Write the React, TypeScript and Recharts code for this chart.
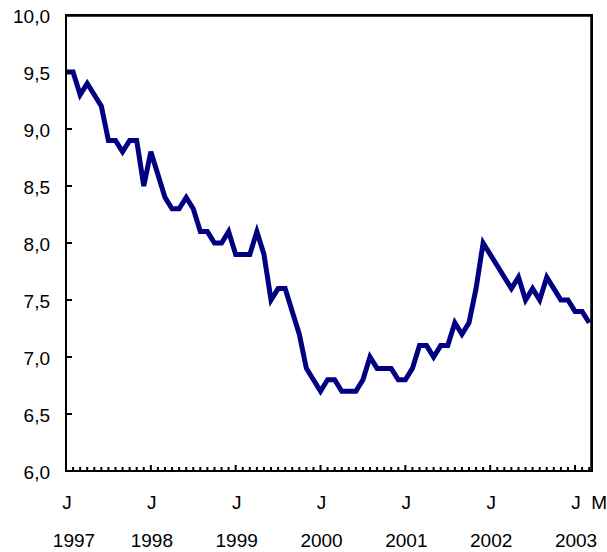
import React from "react";
import { LineChart, Line, XAxis, YAxis, ReferenceArea } from "recharts";

// Monthly values, Jan 1997 .. Mar 2003
const rate = [
  9.5, 9.5, 9.3, 9.4, 9.3, 9.2, 8.9, 8.9, 8.8, 8.9, 8.9, 8.5, // 1997
  8.8, 8.6, 8.4, 8.3, 8.3, 8.4, 8.3, 8.1, 8.1, 8.0, 8.0, 8.1, // 1998
  7.9, 7.9, 7.9, 8.1, 7.9, 7.5, 7.6, 7.6, 7.4, 7.2, 6.9, 6.8, // 1999
  6.7, 6.8, 6.8, 6.7, 6.7, 6.7, 6.8, 7.0, 6.9, 6.9, 6.9, 6.8, // 2000
  6.8, 6.9, 7.1, 7.1, 7.0, 7.1, 7.1, 7.3, 7.2, 7.3, 7.6, 8.0, // 2001
  7.9, 7.8, 7.7, 7.6, 7.7, 7.5, 7.6, 7.5, 7.7, 7.6, 7.5, 7.5, // 2002
  7.4, 7.4, 7.3, // 2003
];
const monthLetters = ["J", "F", "M", "A", "M", "J", "J", "A", "S", "O", "N", "D"];
const yearLabels = ["1997", "1998", "1999", "2000", "2001", "2002", "2003"];
const yTicks = [6.0, 6.5, 7.0, 7.5, 8.0, 8.5, 9.0, 9.5, 10.0];
const xMax = 74.4;

const data = rate.map((v, i) => ({ i, v }));
const lastIdx = rate.length - 1;
const font = "'Liberation Sans', Arial, sans-serif";
const frame = { stroke: "#000", strokeWidth: 2 };

// chart layout
const W = 607;
const H = 552;
const M = { top: 15, right: 15 };
const yAxisW = 66;
const xAxisH = 81;
const plotW = W - M.right - yAxisW;
const plotH = H - xAxisH - M.top;

const XTick = (props: any) => {
  const { x, y, payload } = props;
  const idx = payload.value as number;
  const isJan = idx % 12 === 0;
  const isLast = idx === lastIdx;
  return (
    <g>
      {idx > 0 && <line x1={x} y1={y} x2={x} y2={y - (isJan ? 6 : 4)} stroke="#000" strokeWidth={2} />}
      {(isJan || isLast) && (
        <text x={x + (isLast ? 10 : 1)} y={y + 31} textAnchor="middle" dominantBaseline="central" fontSize={19} fontFamily={font} fill="#000">
          {monthLetters[idx % 12]}
        </text>
      )}
      {isJan && (
        <text x={x + (idx === 0 ? 8 : 1)} y={y + 69} textAnchor="middle" dominantBaseline="central" fontSize={19} fontFamily={font} fill="#000">
          {yearLabels[idx / 12]}
        </text>
      )}
    </g>
  );
};

const YTick = (props: any) => {
  const { x, y, payload } = props;
  const isTop = payload.value === yTicks[yTicks.length - 1];
  return (
    <g>
      <line x1={x} y1={y} x2={x + 6} y2={y} stroke="#000" strokeWidth={2} />
      {isTop && (
        // top and right edges of the plot frame
        <path d={`M${x - 1},${y + 0.5} H${x + plotW - 0.5} V${y + plotH}`} fill="none" stroke="#000" strokeWidth={2.5} />
      )}
      <text x={x - 16} y={y + 1} textAnchor="end" dominantBaseline="central" fontSize={19} fontFamily={font} fill="#000">
        {Number(payload.value).toFixed(1).replace(".", ",")}
      </text>
    </g>
  );
};

export default function App() {
  return (
    <div style={{ position: "absolute", left: 0, top: 0, width: W, height: H, background: "#fff" }}>
      <LineChart width={W} height={H} data={data} margin={{ top: M.top, right: M.right, left: 0, bottom: 0 }}>
        <ReferenceArea x1={0} x2={xMax} y1={6} y2={10} fill="none" stroke="#000" strokeWidth={2} ifOverflow="visible" />
        <XAxis
          dataKey="i"
          type="number"
          domain={[0, xMax]}
          ticks={data.map((d) => d.i)}
          interval={0}
          height={xAxisH}
          tickLine={false}
          tickSize={0}
          tickMargin={0}
          axisLine={frame}
          tick={<XTick />}
          allowDataOverflow
        />
        <YAxis
          domain={[6, 10]}
          ticks={yTicks}
          width={yAxisW}
          tickLine={false}
          tickSize={0}
          tickMargin={0}
          axisLine={frame}
          tick={<YTick />}
          interval={0}
        />
        <Line
          dataKey="v"
          type="linear"
          stroke="#000080"
          strokeWidth={5}
          dot={false}
          isAnimationActive={false}
        />
      </LineChart>
    </div>
  );
}
